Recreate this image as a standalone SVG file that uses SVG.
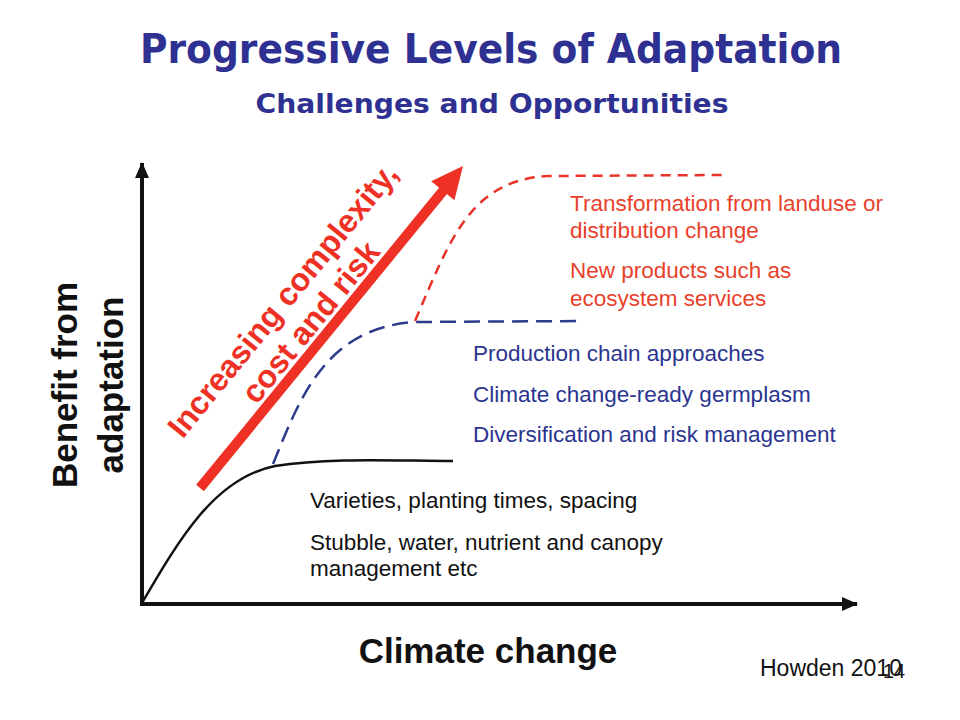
<svg xmlns="http://www.w3.org/2000/svg" width="960" height="720" viewBox="0 0 960 720">
  <style>
    .title { font-family: "DejaVu Sans", Verdana, sans-serif; font-weight: bold; fill: #2E3192; }
    .axislbl { font-family: "Liberation Sans", Arial, sans-serif; font-weight: bold; fill: #111111; font-size: 35px; }
    .t { font-family: "Liberation Sans", Arial, sans-serif; font-size: 22.5px; }
    .red { fill: #E8412C; }
    .blue { fill: #2B3590; }
    .blk { fill: #111111; }
    .arrowtxt { font-family: "Liberation Sans", Arial, sans-serif; font-weight: bold; font-size: 32px; fill: #EE3124; }
    .note { font-family: "Liberation Sans", Arial, sans-serif; fill: #111111; }
  </style>
  <defs>
    <marker id="blackHead" viewBox="0 0 16 14" refX="15" refY="7" markerWidth="16" markerHeight="14" markerUnits="userSpaceOnUse" orient="auto">
      <path d="M0,0 L16,7 L0,14 Z" fill="#111111"/>
    </marker>
  </defs>
  <rect width="960" height="720" fill="#ffffff"/>

  <g id="title">
    <text class="title" x="491" y="63" font-size="40" text-anchor="middle" textLength="702" lengthAdjust="spacingAndGlyphs">Progressive Levels of Adaptation</text>
    <text class="title" x="492" y="113" font-size="26" text-anchor="middle" textLength="473" lengthAdjust="spacingAndGlyphs">Challenges and Opportunities</text>
  </g>

  <g id="axes" fill="none" stroke="#111111" stroke-width="4">
    <line x1="142" y1="606" x2="142" y2="163" marker-end="url(#blackHead)"/>
    <line x1="140" y1="604" x2="857" y2="604" marker-end="url(#blackHead)"/>
  </g>

  <g id="axis-labels">
    <text class="axislbl" transform="translate(77,385) rotate(-90)" text-anchor="middle">Benefit from</text>
    <text class="axislbl" transform="translate(123,385) rotate(-90)" text-anchor="middle">adaptation</text>
    <text class="axislbl" x="488" y="663" text-anchor="middle">Climate change</text>
  </g>

  <g id="connectors" fill="none" stroke-width="2.5">
    <path id="curve-incremental" d="M142,603 C180,538 215,478 275,466 C330,457 400,461 453,461" stroke="#111111"/>
    <path id="curve-systems" d="M273,464 C300,398 325,328 415,322 L582,321" stroke="#2E3A8C" stroke-dasharray="16 8"/>
    <path id="curve-transformational" d="M415,321 C450,240 470,180 548,176 L725,175" stroke="#E8332A" stroke-dasharray="10 7"/>
  </g>

  <g id="complexity-arrow">
    <line x1="200" y1="488" x2="447" y2="186" stroke="#EE3124" stroke-width="10"/>
    <path d="M463,166 L454.4,200.3 L431.2,181.3 Z" fill="#EE3124"/>
    <text class="arrowtxt" transform="translate(291,307) rotate(-50.76)" text-anchor="middle">Increasing complexity,</text>
    <text class="arrowtxt" transform="translate(319,329) rotate(-50.76)" text-anchor="middle">cost and risk</text>
  </g>

  <g id="transformational">
    <text class="t red" x="570" y="211">Transformation from landuse or</text>
    <text class="t red" x="570" y="238">distribution change</text>
    <text class="t red" x="570" y="278">New products such as</text>
    <text class="t red" x="570" y="306">ecosystem services</text>
  </g>

  <g id="systems">
    <text class="t blue" x="473" y="361">Production chain approaches</text>
    <text class="t blue" x="473" y="402">Climate change-ready germplasm</text>
    <text class="t blue" x="473" y="442">Diversification and risk management</text>
  </g>

  <g id="incremental">
    <text class="t blk" x="310" y="508">Varieties, planting times, spacing</text>
    <text class="t blk" x="310" y="550">Stubble, water, nutrient and canopy</text>
    <text class="t blk" x="310" y="576">management etc</text>
  </g>

  <g id="footer">
    <text class="note" x="760" y="676" font-size="23">Howden 2010</text>
    <text class="note" x="883" y="678" font-size="20" fill="#333333">14</text>
  </g>
</svg>
